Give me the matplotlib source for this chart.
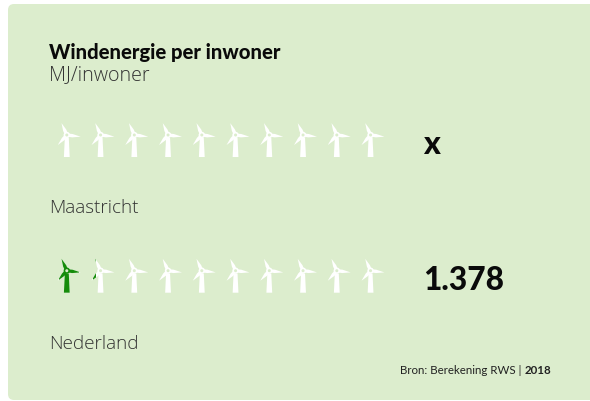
import numpy as np
import matplotlib
matplotlib.use('Agg')
import matplotlib.pyplot as plt
from matplotlib.patches import FancyBboxPatch, Polygon, Circle, Rectangle

categories = ['Maastricht', 'Nederland']
value_labels = ['x', '1.378']
filled_icons = [0, 1.18]
n_icons = 10

BG = '#dcedcd'
GREEN = '#158c0a'
FONT = 'Lato'
LIGHT_FONT = 'Open Sans'

W, H = 590, 401
fig = plt.figure(figsize=(W / 100, H / 100), dpi=100)
ax = fig.add_axes([0, 0, 1, 1])
ax.set_xlim(0, W)
ax.set_ylim(H, 0)
ax.axis('off')

ax.add_patch(FancyBboxPatch((8, 4), 700, 396, boxstyle='round,pad=0,rounding_size=6',
                            fc=BG, ec='none'))


def blade(angle, length):
    """one tapered blade, pointing along angle (degrees, 0 = up)"""
    a = np.deg2rad(angle)
    d = np.array([np.sin(a), -np.cos(a)])
    n = np.array([d[1], -d[0]])
    return np.array([d * 1 + n * 1.6, d * length * 0.4 + n * 1.7, d * length,
                     d * length * 0.4 - n * 1.7, d * 1 - n * 1.6])


def draw_turbine(x, y, color, clip=None):
    parts = [Polygon([(x - 2.0, y + 3), (x + 2.0, y + 3), (x + 2.9, y + 22), (x - 2.9, y + 22)])]
    for angle, length in ((-24, 13), (97, 14), (222, 13.5)):
        parts.append(Polygon(blade(angle, length) + [x, y]))
    parts.append(Circle((x, y), 3.2))
    for p in parts:
        p.set(fc=color, ec='none')
        ax.add_patch(p)
        if clip is not None:
            p.set_clip_path(clip)
    hole = Circle((x, y), 1.5, fc=BG, ec='none')
    ax.add_patch(hole)
    if clip is not None:
        hole.set_clip_path(clip)


ax.text(49, 59, 'Windenergie per inwoner', fontsize=14.6, fontweight='black', family=FONT,
        color='#0a0a0a', va='baseline')
ax.text(49, 80, 'MJ/inwoner', fontsize=14.2, family=LIGHT_FONT, color='#333333', va='baseline', fontweight='light')

row_y = [135.0, 270.7]
label_y = [213, 349]
value_y = [154, 290]
x0, dx = 66.8, 33.75
icon_left, icon_w = -8, 20

for r, cat in enumerate(categories):
    for i in range(n_icons):
        x = x0 + i * dx
        draw_turbine(x, row_y[r], 'white')
        frac = min(max(filled_icons[r] - i, 0), 1)
        if frac > 0:
            clip = Rectangle((x + icon_left, row_y[r] - 15), icon_w * frac, 40, transform=ax.transData)
            draw_turbine(x, row_y[r], GREEN, clip=clip)
    ax.text(49.5, label_y[r], cat, fontsize=13.6, family=LIGHT_FONT, color='#333333', va='baseline', fontweight='light')
    ax.text(423.5, value_y[r], value_labels[r], fontsize=22.8, fontweight='black', family=FONT,
            color='#0a0a0a', va='baseline')

t = ax.text(400, 374, 'Bron: Berekening RWS | ', fontsize=8.25, family=FONT, color='#222222', va='baseline')
fig.canvas.draw()
bb = t.get_window_extent()
ax.text(bb.x1, 374, '2018', fontsize=8.25, fontweight='bold', family=FONT, color='#222222', va='baseline')

fig.savefig('out.png', dpi=100)
